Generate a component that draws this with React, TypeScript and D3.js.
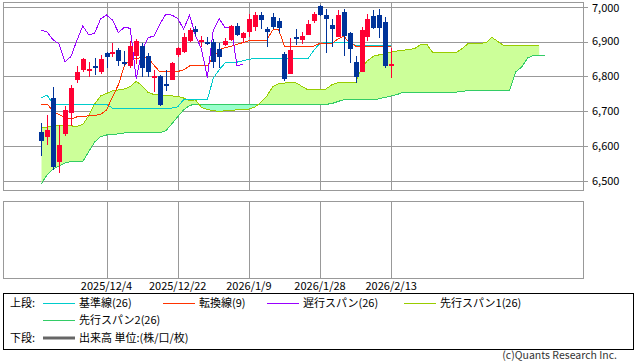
import React from "react";
import * as d3 from "d3";

// daily OHLC, 60 bars (last bar = 2026/2/13)
const opens = [6640, 6625, 6738, 6554, 6634, 6695, 6790, 6819, 6819, 6829, 6814, 6868, 6864, 6876, 6842, 6831, 6860, 6887, 6859, 6801, 6801, 6777, 6790, 6862, 6869, 6903, 6936, 6903, 6898, 6900, 6878, 6890, 6905, 6945, 6911, 6927, 6943, 6976, 6935, 6970, 6959, 6864, 6807, 6913, 6905, 6919, 6960, 7002, 6976, 6948, 6914, 6984, 6924, 6840, 6814, 6914, 6974, 6976, 6955, 6834];
const highs = [6666, 6690, 6769, 6661, 6716, 6776, 6831, 6853, 6842, 6853, 6862, 6870, 6895, 6881, 6874, 6903, 6907, 6897, 6866, 6819, 6803, 6817, 6841, 6883, 6924, 6938, 6945, 6916, 6912, 6907, 6897, 6909, 6948, 6954, 6927, 6979, 6984, 6984, 6941, 6981, 6967, 6871, 6909, 6935, 6927, 6962, 6986, 7004, 6993, 6965, 6991, 6993, 6926, 6859, 6943, 6979, 6991, 6993, 6971, 6881];
const lows = [6573, 6602, 6532, 6523, 6628, 6658, 6781, 6814, 6797, 6804, 6807, 6825, 6855, 6830, 6831, 6824, 6836, 6799, 6799, 6756, 6716, 6757, 6789, 6855, 6866, 6900, 6917, 6885, 6890, 6824, 6824, 6888, 6902, 6916, 6895, 6914, 6931, 6936, 6883, 6935, 6924, 6787, 6806, 6890, 6892, 6919, 6954, 6973, 6868, 6883, 6912, 6860, 6838, 6781, 6812, 6903, 6935, 6909, 6824, 6795];
const closes = [6616, 6645, 6539, 6604, 6704, 6768, 6814, 6849, 6821, 6826, 6849, 6855, 6871, 6844, 6840, 6887, 6903, 6825, 6814, 6802, 6718, 6775, 6838, 6881, 6912, 6933, 6927, 6905, 6893, 6842, 6857, 6903, 6945, 6919, 6924, 6965, 6976, 6962, 6926, 6941, 6938, 6793, 6876, 6911, 6916, 6950, 6979, 6976, 6966, 6936, 6976, 6917, 6879, 6797, 6933, 6965, 6940, 6940, 6831, 6835];

// 転換線(9), 基準線(26)
const tenkan = [6720, 6720, 6701, 6690, 6683, 6678, 6684, 6685, 6687, 6688, 6691, 6704, 6741, 6776, 6830, 6848, 6852, 6854, 6853, 6832, 6813, 6814, 6814, 6814, 6819, 6830, 6831, 6831, 6831, 6854, 6876, 6883, 6886, 6892, 6897, 6902, 6903, 6903, 6903, 6933, 6935, 6887, 6887, 6887, 6887, 6887, 6887, 6895, 6895, 6895, 6907, 6915, 6897, 6887, 6887, 6887, 6887, 6887, 6887, 6887];
const kijun = [6739, 6746, 6720, 6720, 6720, 6720, 6720, 6720, 6720, 6720, 6720, 6720, 6709, 6709, 6709, 6709, 6709, 6709, 6709, 6709, 6709, 6709, 6709, 6713, 6733, 6733, 6733, 6733, 6733, 6795, 6819, 6839, 6841, 6841, 6845, 6849, 6852, 6852, 6852, 6852, 6852, 6852, 6852, 6852, 6852, 6852, 6876, 6895, 6897, 6897, 6897, 6897, 6897, 6889, 6889, 6889, 6889, 6889, 6889, 6889];

// 先行スパン1 / 2 (85 bars, 25 ahead of the last candle)
const spanA = [6652, 6655, 6658, 6658, 6658, 6658, 6657, 6662, 6687, 6721, 6744, 6751, 6759, 6761, 6764, 6771, 6786, 6773, 6754, 6748, 6747, 6746, 6744, 6743, 6738,
  6730, 6733, 6711, 6705, 6702, 6699, 6702, 6703, 6704, 6704, 6706, 6712, 6725, 6743, 6770, 6779, 6781, 6782, 6781, 6771, 6761, 6762, 6762, 6764, 6776, 6782, 6782, 6782, 6782,
  6824, 6845, 6858, 6862, 6866, 6870, 6873, 6875, 6877, 6880, 6892, 6892, 6869, 6869, 6869, 6869, 6869, 6880, 6895, 6895, 6895, 6897, 6912, 6900, 6888, 6888, 6888, 6888, 6888, 6888, 6888];
const spanB = [6492, 6518, 6535, 6543, 6552, 6556, 6556, 6556, 6584, 6612, 6627, 6632, 6634, 6635, 6638, 6639, 6639, 6639, 6639, 6639, 6639, 6644, 6664, 6684, 6704, 6717, 6720,
  6720, 6720, 6720, 6720, 6720, 6720, 6720, 6720, 6720, 6720, 6720, 6720, 6720, 6720, 6720, 6720, 6720, 6720, 6720, 6720, 6720, 6720,
  6722, 6728, 6733, 6733, 6733, 6733, 6733, 6733, 6736, 6740, 6744, 6748, 6755, 6755, 6755, 6755, 6755, 6755, 6755, 6755, 6755, 6755,
  6757, 6760, 6761, 6761, 6761, 6761, 6761, 6761, 6761, 6813, 6827, 6853, 6860, 6860, 6860];

const lagShift = 25; // 遅行スパン = close drawn 25 bars back
const priceTicks = [6500, 6600, 6700, 6800, 6900, 7000];
const dateBars = [11, 23, 35, 47, 59];
const dateLabels = ["2025/12/4", "2025/12/22", "2026/1/9", "2026/1/28", "2026/2/13"];

const legendRow1 = [
  { name: "基準線(26)", color: "#00cccc", x: 43 },
  { name: "転換線(9)", color: "#ff3300", x: 163 },
  { name: "遅行スパン(26)", color: "#9900ff", x: 267 },
  { name: "先行スパン1(26)", color: "#99cc00", x: 404 },
];

const FONT = "'Noto Sans CJK JP', 'Noto Sans', sans-serif";
const W = 638;
const H = 362;
const main = { left: 3, right: 583, top: 2, bottom: 190 };
const lower = { top: 201, bottom: 278 };

const App = () => {
  const svgRef = React.useRef(null);

  React.useEffect(() => {
    drawChart();
  }, []);

  const drawChart = () => {
    const svg = d3.select(svgRef.current);
    svg.selectAll("*").remove();

    const x = d3.scaleLinear().domain([0, 59]).range([41.3, 391.2]);
    const y = d3.scaleLinear().domain([6500, 7000]).range([181, 6.7]);
    const px = (v) => Math.round(v) + 0.5;

    svg.append("rect").attr("width", W).attr("height", H).attr("fill", "#fff");

    const defs = svg.append("defs");
    defs
      .append("clipPath")
      .attr("id", "plot")
      .append("rect")
      .attr("x", main.left)
      .attr("y", main.top)
      .attr("width", main.right - main.left)
      .attr("height", main.bottom - main.top);

    const cloudIdx = d3.range(spanA.length);
    defs
      .append("clipPath")
      .attr("id", "aboveB")
      .append("path")
      .attr(
        "d",
        d3.area().x((i) => x(i)).y0(main.top).y1((i) => y(spanB[i]))(cloudIdx)
      );
    defs
      .append("clipPath")
      .attr("id", "belowB")
      .append("path")
      .attr(
        "d",
        d3.area().x((i) => x(i)).y0((i) => y(spanB[i])).y1(main.bottom)(cloudIdx)
      );

    // grid
    const grid = svg.append("g").attr("stroke", "#999").attr("fill", "none");
    priceTicks.forEach((t) => {
      grid.append("line").attr("x1", main.left).attr("x2", main.right).attr("y1", px(y(t))).attr("y2", px(y(t)));
      grid.append("line").attr("x1", main.right).attr("x2", main.right + 5).attr("y1", px(y(t))).attr("y2", px(y(t)));
    });
    dateBars.forEach((b) => {
      grid.append("line").attr("x1", px(x(b))).attr("x2", px(x(b))).attr("y1", main.top).attr("y2", main.bottom);
      grid.append("line").attr("x1", px(x(b))).attr("x2", px(x(b))).attr("y1", lower.top).attr("y2", lower.bottom);
    });

    const plot = svg.append("g").attr("clip-path", "url(#plot)");

    // cloud
    const band = d3.area().x((i) => x(i)).y0((i) => y(spanB[i])).y1((i) => y(spanA[i]));
    plot.append("path").attr("d", band(cloudIdx)).attr("fill", "#ccff99").attr("clip-path", "url(#aboveB)");
    plot.append("path").attr("d", band(cloudIdx)).attr("fill", "#99ffcc").attr("clip-path", "url(#belowB)");

    const line = (arr) => d3.line().x((d, i) => x(i)).y((d) => y(d))(arr);
    const addLine = (arr, color) =>
      plot
        .append("path")
        .attr("d", line(arr))
        .attr("fill", "none")
        .attr("stroke", color)
        .attr("stroke-width", 1)
        .attr("shape-rendering", "crispEdges");

    addLine(spanB, "#33cc66");
    addLine(spanA, "#99cc00");
    addLine(kijun, "#00cccc");
    addLine(tenkan, "#ff3300");
    addLine(closes.slice(lagShift), "#9900ff");

    // candles
    const candles = plot.append("g").attr("shape-rendering", "crispEdges");
    closes.forEach((c, i) => {
      const o = opens[i];
      const color = c >= o ? "#ff0033" : "#003399";
      const cx = Math.round(x(i));
      candles
        .append("line")
        .attr("x1", cx + 0.5)
        .attr("x2", cx + 0.5)
        .attr("y1", Math.round(y(highs[i])))
        .attr("y2", Math.round(y(lows[i])))
        .attr("stroke", color);
      const top = Math.round(y(Math.max(o, c)));
      const bot = Math.round(y(Math.min(o, c)));
      candles
        .append("rect")
        .attr("x", cx - 2)
        .attr("y", top)
        .attr("width", 5)
        .attr("height", Math.max(2, bot - top))
        .attr("fill", color);
    });

    // panel borders
    svg
      .append("rect")
      .attr("x", main.left + 0.5)
      .attr("y", main.top + 0.5)
      .attr("width", main.right - main.left)
      .attr("height", main.bottom - main.top)
      .attr("fill", "none")
      .attr("stroke", "#999");
    svg
      .append("rect")
      .attr("x", main.left + 0.5)
      .attr("y", lower.top + 0.5)
      .attr("width", main.right - main.left)
      .attr("height", lower.bottom - lower.top)
      .attr("fill", "none")
      .attr("stroke", "#999");

    // axis labels
    const text = svg.append("g").attr("font-family", FONT).attr("font-size", 11).attr("fill", "#000");
    priceTicks.forEach((t) => {
      text
        .append("text")
        .attr("x", 592)
        .attr("y", Math.max(y(t), 8))
        .attr("dy", "0.35em")
        .text(d3.format(",")(t));
    });
    dateBars.forEach((b, k) => {
      text
        .append("text")
        .attr("x", x(b))
        .attr("y", 286)
        .attr("dy", "0.35em")
        .attr("text-anchor", "middle")
        .text(dateLabels[k]);
    });

    // legend
    svg
      .append("rect")
      .attr("x", 3.5)
      .attr("y", 293.5)
      .attr("width", 630)
      .attr("height", 56)
      .attr("fill", "none")
      .attr("stroke", "#000");
    const row1 = 303;
    const row2 = 320;
    const row3 = 338;
    text.append("text").attr("x", 10).attr("y", row1).attr("dy", "0.35em").text("上段:");
    legendRow1.forEach((l) => {
      svg.append("line").attr("x1", l.x).attr("x2", l.x + 32).attr("y1", row1 + 0.5).attr("y2", row1 + 0.5).attr("stroke", l.color);
      text.append("text").attr("x", l.x + 36).attr("y", row1).attr("dy", "0.35em").text(l.name);
    });
    svg.append("line").attr("x1", 43).attr("x2", 75).attr("y1", row2 + 0.5).attr("y2", row2 + 0.5).attr("stroke", "#33cc66");
    text.append("text").attr("x", 79).attr("y", row2).attr("dy", "0.35em").text("先行スパン2(26)");
    text.append("text").attr("x", 10).attr("y", row3).attr("dy", "0.35em").text("下段:");
    svg.append("line").attr("x1", 43).attr("x2", 75).attr("y1", row3).attr("y2", row3).attr("stroke", "#666").attr("stroke-width", 3);
    text.append("text").attr("x", 79).attr("y", row3).attr("dy", "0.35em").text("出来高 単位:(株/口/枚)");

    text
      .append("text")
      .attr("x", 617)
      .attr("y", 355)
      .attr("dy", "0.35em")
      .attr("font-size", 10.5)
      .attr("text-anchor", "end")
      .attr("fill", "#333")
      .text("(c)Quants Research Inc.");
  };

  return (
    <svg
      ref={svgRef}
      width={W}
      height={H}
      style={{ position: "absolute", left: 0, top: 0, display: "block" }}
    />
  );
};

export default App;
